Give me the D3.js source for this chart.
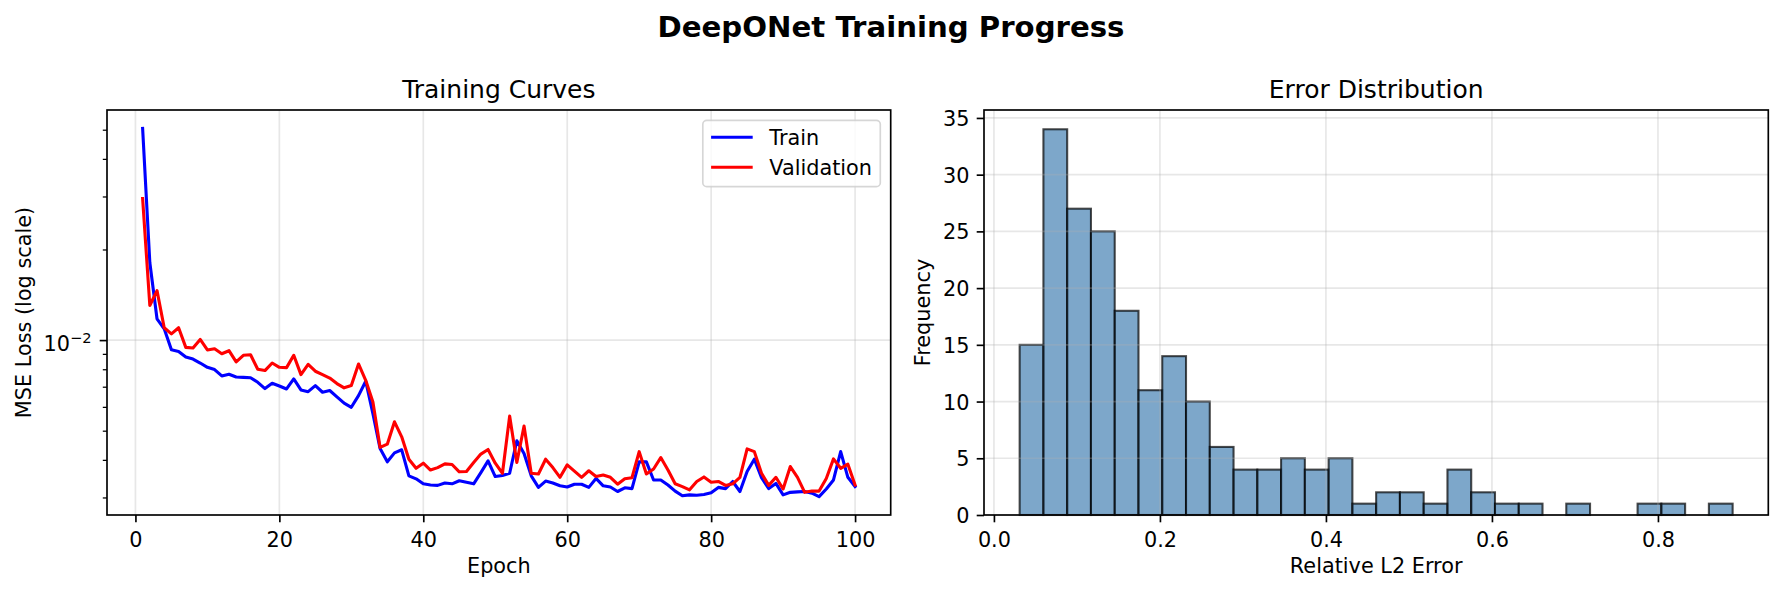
<!DOCTYPE html>
<html><head><meta charset="utf-8">
<script src="https://cdn.jsdelivr.net/npm/d3@7"></script>
<style>
body{margin:0;background:#fff}
text{font-family:"DejaVu Sans",sans-serif;fill:#000}
</style>
</head><body>
<svg id="c" width="1783" height="593" xmlns="http://www.w3.org/2000/svg"></svg>
<script>
// ---------------- data ----------------
const epochs = d3.range(1, 101);
const trainLoss = [
0.0505, 0.0181, 0.01177, 0.0109, 0.00929, 0.00917, 0.00878, 0.00865, 0.00839, 0.00812,
0.00798, 0.00760, 0.00770, 0.00754, 0.00752, 0.00750, 0.00724, 0.00690, 0.00719, 0.00704,
0.00688, 0.00743, 0.00683, 0.00674, 0.00706, 0.00671, 0.00680, 0.00648, 0.00617, 0.00598,
0.00654, 0.00730, 0.00570, 0.00436, 0.00394, 0.00422, 0.00432, 0.00354, 0.00346, 0.00333,
0.00330, 0.00329, 0.00335, 0.00333, 0.00341, 0.00337, 0.00333, 0.00363, 0.00397, 0.00352,
0.00355, 0.00361, 0.00463, 0.00420, 0.00354, 0.00324, 0.00340, 0.00335, 0.00328, 0.00325,
0.00332, 0.00332, 0.00324, 0.00347, 0.00328, 0.00325, 0.00314, 0.00323, 0.00321, 0.00394,
0.00394, 0.00343, 0.00343, 0.00330, 0.00315, 0.00304, 0.00306, 0.00305, 0.00307, 0.00311,
0.00324, 0.00321, 0.00339, 0.00314, 0.00366, 0.00402, 0.00349, 0.00321, 0.00334, 0.00306,
0.00312, 0.00313, 0.00314, 0.00310, 0.00302, 0.00320, 0.00343, 0.00426, 0.00350, 0.00326
];
const valLoss = [
0.02953, 0.01303, 0.01460, 0.01099, 0.01049, 0.01099, 0.00946, 0.00941, 0.01005, 0.00927,
0.00936, 0.00901, 0.00922, 0.00846, 0.00890, 0.00894, 0.00800, 0.00792, 0.00839, 0.00812,
0.00810, 0.00890, 0.00768, 0.00831, 0.00788, 0.00768, 0.00748, 0.00717, 0.00694, 0.00706,
0.00833, 0.00735, 0.00623, 0.00440, 0.00451, 0.00535, 0.00477, 0.00402, 0.00375, 0.00390,
0.00370, 0.00377, 0.00388, 0.00386, 0.00365, 0.00366, 0.00392, 0.00418, 0.00433, 0.00390,
0.00361, 0.00559, 0.00392, 0.00518, 0.00361, 0.00359, 0.00402, 0.00377, 0.00350, 0.00385,
0.00367, 0.00350, 0.00368, 0.00352, 0.00356, 0.00350, 0.00332, 0.00346, 0.00349, 0.00426,
0.00359, 0.00373, 0.00407, 0.00370, 0.00333, 0.00326, 0.00318, 0.00339, 0.00351, 0.00337,
0.00339, 0.00329, 0.00333, 0.00350, 0.00435, 0.00426, 0.00361, 0.00329, 0.00350, 0.00320,
0.00380, 0.00350, 0.00312, 0.00315, 0.00315, 0.00347, 0.00403, 0.00375, 0.00387, 0.00330
];
const errorCounts = [15,34,27,25,18,11,14,10,6,4,4,5,4,5,1,2,2,1,4,2,1,1,0,1,0,0,1,1,0,1];
const errorMin = 0.031, errorMax = 0.890;
const lossXTicks = [0, 20, 40, 60, 80, 100];
const lossYMajor = [0.01];
const lossYMinor = [0.003,0.004,0.005,0.006,0.007,0.008,0.009,0.02,0.03,0.04,0.05];
const errXTicks = [0, 0.2, 0.4, 0.6, 0.8];
const errXLabels = ["0.0","0.2","0.4","0.6","0.8"];
const errYTicks = [0, 5, 10, 15, 20, 25, 30, 35];

// ---------------- layout ----------------
const FS = 20.8;
const svg = d3.select("#c");
svg.append("rect").attr("width",1783).attr("height",593).attr("fill","#fff");
const L = {x0:107, x1:890.7, y0:110, y1:515};
const R = {x0:984, x1:1768.3, y0:110, y1:515};
const gridStyle = s => s.attr("stroke","#b0b0b0").attr("stroke-opacity",0.3).attr("stroke-width",1.67);

svg.append("text").attr("x",891).attr("y",37).attr("text-anchor","middle")
  .attr("font-size",29.2).attr("font-weight","bold").text("DeepONet Training Progress");

// ---------------- left: training curves ----------------
const xE = d3.scaleLinear().domain([1 - 0.05*99, 100 + 0.05*99]).range([L.x0, L.x1]);
const allLoss = trainLoss.concat(valLoss);
const lmin = Math.log10(d3.min(allLoss)), lmax = Math.log10(d3.max(allLoss));
const lpad = 0.05*(lmax-lmin);
const yL = d3.scaleLog().domain([Math.pow(10,lmin-lpad), Math.pow(10,lmax+lpad)]).range([L.y1, L.y0]);

const gL = svg.append("g");
gL.append("text").attr("x",(L.x0+L.x1)/2).attr("y",97.5).attr("text-anchor","middle")
  .attr("font-size",25).text("Training Curves");
lossXTicks.forEach(t => gridStyle(gL.append("line").attr("x1",xE(t)).attr("x2",xE(t)).attr("y1",L.y0).attr("y2",L.y1)));
lossYMajor.forEach(t => gridStyle(gL.append("line").attr("x1",L.x0).attr("x2",L.x1).attr("y1",yL(t)).attr("y2",yL(t))));
svg.append("clipPath").attr("id","clipL").append("rect")
  .attr("x",L.x0).attr("y",L.y0).attr("width",L.x1-L.x0).attr("height",L.y1-L.y0);
const line = d3.line().x((d,i)=>xE(epochs[i])).y(d=>yL(d));
[[trainLoss,"#0000ff"],[valLoss,"#ff0000"]].forEach(([s,c]) => {
  gL.append("path").datum(s).attr("d",line).attr("fill","none").attr("stroke",c)
    .attr("stroke-width",3.1).attr("stroke-linejoin","round").attr("stroke-linecap","square").attr("clip-path","url(#clipL)");
});
gL.append("g").attr("transform",`translate(0,${L.y1})`)
  .call(d3.axisBottom(xE).tickValues(lossXTicks).tickFormat(d3.format("d")).tickSize(7.3).tickPadding(9.9).tickSizeOuter(0));
const axYLmin = gL.append("g").attr("transform",`translate(${L.x0},0)`)
  .call(d3.axisLeft(yL).tickValues(lossYMinor).tickFormat(()=> "").tickSize(4.2).tickSizeOuter(0));
axYLmin.selectAll(".tick line").attr("stroke-width",1.25);
gL.append("g").attr("transform",`translate(${L.x0},0)`)
  .call(d3.axisLeft(yL).tickValues(lossYMajor).tickFormat(()=> "").tickSize(7.3).tickSizeOuter(0));
lossYMajor.forEach(t => {
  const e = Math.round(Math.log10(t));
  const tx = gL.append("text").attr("x",91.5).attr("y",yL(t)+10.8).attr("text-anchor","end").attr("font-size",FS);
  tx.append("tspan").text("10");
  tx.append("tspan").attr("font-size",14.6).attr("dy",-7.5).text("\u2212" + Math.abs(e));
});
gL.append("text").attr("x",(L.x0+L.x1)/2).attr("y",573).attr("text-anchor","middle").attr("font-size",FS).text("Epoch");
gL.append("text").attr("transform",`translate(30.5,${(L.y0+L.y1)/2}) rotate(-90)`).attr("text-anchor","middle")
  .attr("font-size",FS).text("MSE Loss (log scale)");

// legend
const leg = gL.append("g");
const legItems = [{name:"Train",color:"#0000ff"},{name:"Validation",color:"#ff0000"}];
const legRight = L.x1 - 10.4, legTop = L.y0 + 10.4;
const legBox = leg.append("rect");
let maxW = 0;
const legTexts = legItems.map((d,i) => {
  const t = leg.append("text").attr("font-size",FS).attr("y",legTop + 24.6 + i*30).text(d.name);
  maxW = Math.max(maxW, t.node().getComputedTextLength());
  return t;
});
const legW = 8.3 + 41.6 + 16.6 + maxW + 8.3;
const legLeft = legRight - legW;
legBox.attr("x",legLeft).attr("y",legTop).attr("width",legW).attr("height",66.3).attr("rx",4).attr("ry",4)
  .attr("fill","#fff").attr("fill-opacity",0.8).attr("stroke","#cccccc").attr("stroke-opacity",0.8).attr("stroke-width",1.67);
legItems.forEach((d,i) => {
  const ly = legTop + 16.9 + i*30;
  leg.append("line").attr("x1",legLeft+8.3).attr("x2",legLeft+8.3+41.6).attr("y1",ly).attr("y2",ly)
    .attr("stroke",d.color).attr("stroke-width",3.1);
  legTexts[i].attr("x", legLeft + 8.3 + 41.6 + 16.6);
});
gL.append("rect").attr("x",L.x0).attr("y",L.y0).attr("width",L.x1-L.x0).attr("height",L.y1-L.y0)
  .attr("fill","none").attr("stroke","#000").attr("stroke-width",1.67);

// ---------------- right: histogram ----------------
const errPad = 0.05*(errorMax-errorMin);
const xR = d3.scaleLinear().domain([errorMin-errPad, errorMax+errPad]).range([R.x0, R.x1]);
const yR = d3.scaleLinear().domain([0, d3.max(errorCounts)*1.05]).range([R.y1, R.y0]);
const binW = (errorMax-errorMin)/errorCounts.length;
const bins = errorCounts.map((c,i) => ({c, a: errorMin + i*binW, b: errorMin + (i+1)*binW})).filter(d => d.c > 0);
const gR = svg.append("g");
gR.append("text").attr("x",(R.x0+R.x1)/2).attr("y",97.5).attr("text-anchor","middle")
  .attr("font-size",25).text("Error Distribution");
gR.selectAll("rect.bar").data(bins).join("rect").attr("class","bar")
  .attr("x",d=>xR(d.a)).attr("y",d=>yR(d.c)).attr("width",d=>xR(d.b)-xR(d.a)).attr("height",d=>yR(0)-yR(d.c))
  .attr("fill","rgb(70,130,180)").attr("fill-opacity",0.7)
  .attr("stroke","#000").attr("stroke-opacity",0.7).attr("stroke-width",2.08);
errXTicks.forEach(t => gridStyle(gR.append("line").attr("x1",xR(t)).attr("x2",xR(t)).attr("y1",R.y0).attr("y2",R.y1)));
errYTicks.forEach(t => gridStyle(gR.append("line").attr("x1",R.x0).attr("x2",R.x1).attr("y1",yR(t)).attr("y2",yR(t))));
gR.append("g").attr("transform",`translate(0,${R.y1})`)
  .call(d3.axisBottom(xR).tickValues(errXTicks).tickFormat((d,i)=>errXLabels[i]).tickSize(7.3).tickPadding(9.9).tickSizeOuter(0));
const axYR = gR.append("g").attr("transform",`translate(${R.x0},0)`)
  .call(d3.axisLeft(yR).tickValues(errYTicks).tickFormat(d3.format("d")).tickSize(7.3).tickPadding(7.3).tickSizeOuter(0));
axYR.selectAll(".tick text").attr("dy","0.36em");
gR.append("text").attr("x",(R.x0+R.x1)/2).attr("y",573).attr("text-anchor","middle").attr("font-size",FS).text("Relative L2 Error");
gR.append("text").attr("transform",`translate(930,${(R.y0+R.y1)/2}) rotate(-90)`).attr("text-anchor","middle")
  .attr("font-size",FS).text("Frequency");
gR.append("rect").attr("x",R.x0).attr("y",R.y0).attr("width",R.x1-R.x0).attr("height",R.y1-R.y0)
  .attr("fill","none").attr("stroke","#000").attr("stroke-width",1.67);

// axis styling
svg.selectAll(".domain").remove();
svg.selectAll(".tick text").attr("font-size",FS).attr("font-family","DejaVu Sans").attr("fill","#000");
svg.selectAll(".tick line").filter(function(){return !this.getAttribute("stroke-width");}).attr("stroke-width",1.67);
svg.selectAll(".tick line").attr("stroke","#000");
</script>
</body></html>
